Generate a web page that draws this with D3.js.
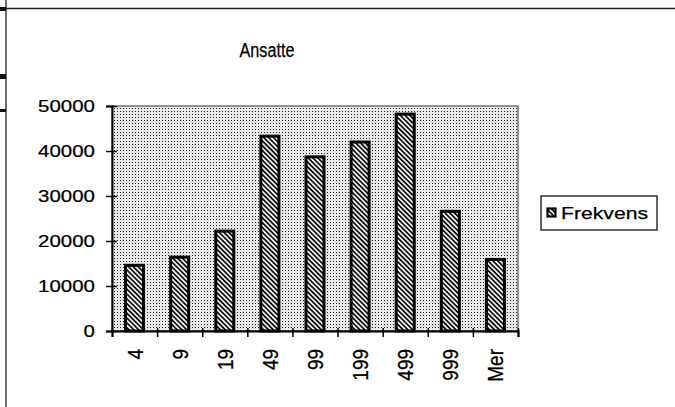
<!DOCTYPE html>
<html>
<head>
<meta charset="utf-8">
<script src="https://cdn.jsdelivr.net/npm/d3@7"></script>
<style>
  html, body { margin: 0; padding: 0; background: #fff; }
  svg { display: block; font-family: "Liberation Sans", Arial, Helvetica, sans-serif; }
  text { fill: #000; stroke: #000; stroke-width: 0.25px; }
</style>
</head>
<body>
<svg id="chart" width="675" height="407"></svg>
<script>
// Employee size classes (upper bound of each class) and their frequencies
const categories = ["4", "9", "19", "49", "99", "199", "499", "999", "Mer"];
const frekvens   = [14600, 16400, 22200, 43300, 38700, 42000, 48200, 26600, 15900];
const yTickValues = [0, 10000, 20000, 30000, 40000, 50000];
const chartTitle = "Ansatte";
const seriesName = "Frekvens";

const svg = d3.select("#chart");
const plot = { left: 112, right: 518, top: 106, bottom: 331 };

// Fill patterns: stippled plot background and hatched bars
const defs = svg.append("defs");
const dots = defs.append("pattern").attr("id", "stipple")
  .attr("patternUnits", "userSpaceOnUse").attr("width", 3).attr("height", 3);
dots.append("rect").attr("width", 3).attr("height", 3).attr("fill", "#e8e8e8");
dots.append("rect").attr("width", 1).attr("height", 1).attr("fill", "#222");

const hatch = defs.append("pattern").attr("id", "hatch")
  .attr("patternUnits", "userSpaceOnUse").attr("width", 3.4).attr("height", 3.4)
  .attr("patternTransform", "rotate(-45)");
hatch.append("rect").attr("width", 3.4).attr("height", 3.4).attr("fill", "#eeeeee");
hatch.append("rect").attr("width", 1.7).attr("height", 3.4).attr("fill", "#111");

// Page frame lines
svg.append("line").attr("x1", 6).attr("x2", 675).attr("y1", 8.5).attr("y2", 8.5)
  .attr("stroke", "#222").attr("stroke-width", 1.6);
svg.append("line").attr("x1", 6).attr("x2", 6).attr("y1", 0).attr("y2", 407)
  .attr("stroke", "#222").attr("stroke-width", 1.3);
[[7, 4], [74, 5], [109, 3]].forEach(([y, h]) =>
  svg.append("rect").attr("x", 0).attr("y", y).attr("width", 6).attr("height", h).attr("fill", "#111"));

// Scales
const x = d3.scaleBand().domain(categories)
  .range([plot.left, plot.right]).paddingInner(0.6).paddingOuter(0.3);
const xEdges = d3.scaleLinear().domain([0, categories.length]).range([plot.left, plot.right]);
const y = d3.scaleLinear().domain([0, 50000]).range([plot.bottom, plot.top]);

// Plot area
svg.append("rect")
  .attr("x", plot.left).attr("y", plot.top)
  .attr("width", plot.right - plot.left).attr("height", plot.bottom - plot.top)
  .attr("fill", "url(#stipple)").attr("stroke", "#333").attr("stroke-width", 1);

// Bars
svg.append("g").selectAll("rect").data(frekvens).join("rect")
  .attr("x", (d, i) => x(categories[i]))
  .attr("y", d => y(d))
  .attr("width", x.bandwidth())
  .attr("height", d => y(0) - y(d))
  .attr("fill", "url(#hatch)")
  .attr("stroke", "#000").attr("stroke-width", 3);

// Y axis
const yAxis = svg.append("g").attr("transform", `translate(${plot.left},0)`)
  .call(d3.axisLeft(y).tickValues(yTickValues).tickFormat(d3.format("d")).tickSize(6).tickPadding(0));
yAxis.select(".domain").attr("stroke", "#000").attr("stroke-width", 2);
yAxis.selectAll(".tick line").attr("x2", -6).attr("x1", 5).attr("stroke", "#000").attr("stroke-width", 1.5);
yAxis.selectAll(".tick text")
  .attr("font-size", 16.5).attr("fill", "#000")
  .attr("x", -17 / 1.24)
  .attr("transform", "scale(1.24,1)");

// X axis: tick marks on category boundaries
const xTicks = svg.append("g").attr("transform", `translate(0,${plot.bottom})`)
  .call(d3.axisBottom(xEdges).tickValues(d3.range(categories.length + 1)).tickFormat("").tickSize(6));
xTicks.select(".domain").attr("stroke", "#000").attr("stroke-width", 2);
xTicks.selectAll(".tick line").attr("y1", -3).attr("stroke", "#000").attr("stroke-width", 1.5);

// X axis: rotated category labels
const xLabels = svg.append("g").attr("transform", `translate(0,${plot.bottom})`)
  .call(d3.axisBottom(x).tickSize(0));
xLabels.select(".domain").remove();
xLabels.selectAll(".tick text")
  .attr("font-size", 19).attr("fill", "#000")
  .attr("text-anchor", "end")
  .attr("dy", "0.35em").attr("x", -18).attr("y", 0)
  .attr("transform", "rotate(-90) scale(1,1.2)");

// Title
svg.append("text").attr("x", 267).attr("y", 57)
  .attr("text-anchor", "middle").attr("font-size", 20)
  .attr("textLength", 55).attr("lengthAdjust", "spacingAndGlyphs")
  .text(chartTitle);

// Legend
const legend = svg.append("g");
legend.append("rect").attr("x", 541).attr("y", 196).attr("width", 116).attr("height", 34)
  .attr("fill", "#fff").attr("stroke", "#111").attr("stroke-width", 1.3);
legend.append("rect").attr("x", 547.5).attr("y", 208.5).attr("width", 8).attr("height", 8)
  .attr("fill", "url(#hatch)").attr("stroke", "#000").attr("stroke-width", 2.2);
legend.append("text").attr("x", 561).attr("y", 218.5)
  .attr("font-size", 16.5).attr("textLength", 87).attr("lengthAdjust", "spacingAndGlyphs")
  .text(seriesName);
</script>
</body>
</html>
